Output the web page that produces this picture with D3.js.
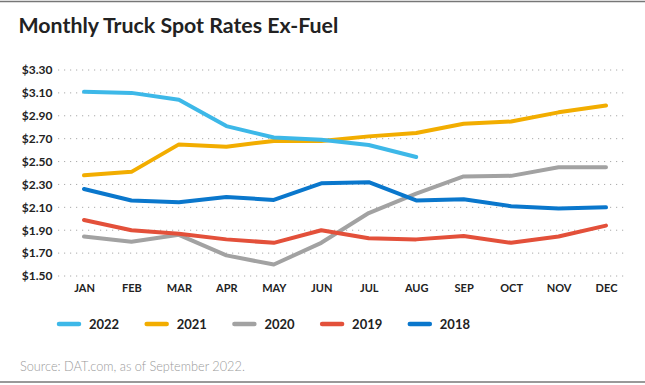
<!DOCTYPE html>
<html><head><meta charset="utf-8">
<script src="https://cdn.jsdelivr.net/npm/d3@7"></script>
<style>body{margin:0;background:#fff}svg{display:block}</style>
</head><body>
<svg id="c" width="645" height="385"></svg>
<script>
const months = ["JAN","FEB","MAR","APR","MAY","JUN","JUL","AUG","SEP","OCT","NOV","DEC"];
const yTicks = [1.5,1.7,1.9,2.1,2.3,2.5,2.7,2.9,3.1,3.3];
const years = ["2022","2021","2020","2019","2018"];
const colors = ["#3db8e8","#f2ad00","#a2a2a2","#e3503a","#0a77cc"];
const s2022 = [3.11,3.10,3.04,2.81,2.71,2.69,2.645,2.54];
const s2021 = [2.38,2.41,2.65,2.63,2.68,2.68,2.72,2.75,2.83,2.85,2.93,2.99];
const s2020 = [1.845,1.80,1.86,1.68,1.60,1.79,2.05,2.22,2.37,2.375,2.45,2.45];
const s2019 = [1.99,1.90,1.87,1.82,1.79,1.90,1.83,1.82,1.85,1.79,1.845,1.94];
const s2018 = [2.26,2.16,2.145,2.19,2.165,2.31,2.32,2.16,2.17,2.11,2.09,2.10];
const series = [s2022,s2021,s2020,s2019,s2018];

const svg = d3.select("#c");
const font = "Lato, 'Open Sans', sans-serif";
svg.append("line").attr("x1",0).attr("x2",645).attr("y1",1.5).attr("y2",1.5).attr("stroke","#777").attr("stroke-width",1.5);
svg.append("line").attr("x1",0).attr("x2",645).attr("y1",382).attr("y2",382).attr("stroke","#777").attr("stroke-width",1.5);

function fit(sel, target){
  const w = sel.node().getComputedTextLength();
  const fs = +sel.attr("font-size");
  sel.attr("font-size", (fs*target/w).toFixed(2));
}

const title = svg.append("text").attr("x",18.5).attr("y",33).attr("font-family",font).attr("font-weight",700)
  .attr("font-size",21).attr("fill","#222").text("Monthly Truck Spot Rates Ex-Fuel");
fit(title, 320);

const x = d3.scalePoint().domain(months).range([84,606]);
const y = d3.scaleLinear().domain([1.5,3.3]).range([276,70]);

// gridlines
svg.append("g").selectAll("line").data(yTicks).join("line")
  .attr("x1",58).attr("x2",628).attr("y1",d=>y(d)).attr("y2",d=>y(d))
  .attr("stroke","#aaa").attr("stroke-width",1).attr("stroke-dasharray","1.2,4.8");

// y axis
const yAxis = svg.append("g").attr("transform","translate(52.5,0)")
  .call(d3.axisLeft(y).tickValues(yTicks).tickSize(0).tickPadding(0).tickFormat(d=>"$"+d.toFixed(2)));
yAxis.select(".domain").remove();
yAxis.selectAll("text").attr("font-family",font).attr("font-weight",700).attr("font-size",12).attr("fill","#222");

// x axis
const xAxis = svg.append("g").attr("transform","translate(0,284)")
  .call(d3.axisBottom(x).tickSize(0).tickPadding(0));
xAxis.select(".domain").remove();
xAxis.selectAll("text").attr("font-family",font).attr("font-weight",700).attr("font-size",11).attr("fill","#222").attr("dy","0.75em");

const line = d3.line().x((d,i)=>x(months[i])).y(d=>y(d));
const order = [2,3,4,1,0];
order.forEach(k=>{
  svg.append("path").attr("d",line(series[k])).attr("fill","none")
    .attr("stroke",colors[k]).attr("stroke-width",4).attr("stroke-linejoin","round").attr("stroke-linecap","round");
});

// legend
const lg = svg.append("g").selectAll("g").data(years).join("g")
  .attr("transform",(d,i)=>`translate(${59+i*87.7},324)`);
lg.append("line").attr("x1",0).attr("x2",20).attr("stroke",(d,i)=>colors[i]).attr("stroke-width",4.5).attr("stroke-linecap","round");
lg.append("text").attr("x",30).attr("dy","0.36em").attr("font-family",font).attr("font-weight",700)
  .attr("font-size",13).attr("fill","#222").text(d=>d);

const src = svg.append("text").attr("x",20).attr("y",371).attr("font-family",font).attr("font-weight",300)
  .attr("font-size",13.5).attr("fill","#9a9a9a").text("Source: DAT.com, as of September 2022.");
fit(src, 225);
</script>
</body></html>
